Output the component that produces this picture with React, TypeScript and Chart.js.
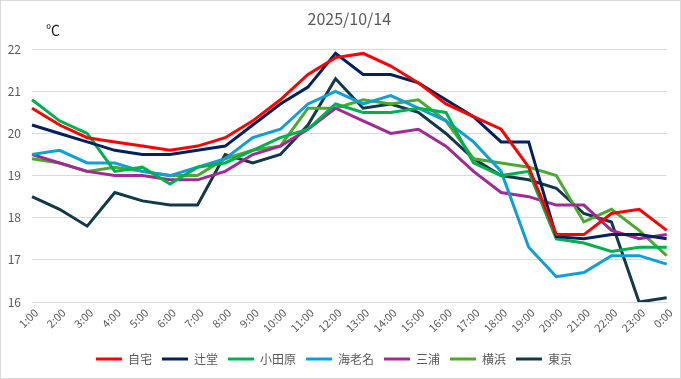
import React, { useEffect, useRef } from "react";
import { Chart, registerables } from "chart.js";

Chart.register(...registerables);

const hours = ["1:00","2:00","3:00","4:00","5:00","6:00","7:00","8:00","9:00","10:00","11:00","12:00","13:00","14:00","15:00","16:00","17:00","18:00","19:00","20:00","21:00","22:00","23:00","0:00"];

const jitaku = [20.6,20.2,19.9,19.8,19.7,19.6,19.7,19.9,20.3,20.8,21.4,21.8,21.9,21.6,21.2,20.7,20.4,20.1,19.2,17.6,17.6,18.1,18.2,17.7];
const tsujido = [20.2,20.0,19.8,19.6,19.5,19.5,19.6,19.7,20.2,20.7,21.1,21.9,21.4,21.4,21.2,20.8,20.4,19.8,19.8,17.55,17.5,17.6,17.6,17.5];
const odawara = [20.8,20.3,20.0,19.1,19.2,18.8,19.2,19.3,19.6,19.9,20.1,20.7,20.5,20.5,20.6,20.5,19.3,19.0,19.1,17.5,17.4,17.2,17.3,17.3];
const ebina = [19.5,19.6,19.3,19.3,19.1,19.0,19.2,19.4,19.9,20.1,20.7,21.0,20.7,20.9,20.6,20.3,19.8,19.1,17.3,16.6,16.7,17.1,17.1,16.9];
const miura = [19.5,19.3,19.1,19.0,19.0,18.9,18.9,19.1,19.5,19.7,20.1,20.6,20.3,20.0,20.1,19.7,19.1,18.6,18.5,18.3,18.3,17.7,17.5,17.6];
const yokohama = [19.4,19.3,19.1,19.2,19.1,19.0,19.0,19.4,19.6,19.7,20.6,20.6,20.8,20.7,20.8,20.3,19.4,19.3,19.2,19.0,17.9,18.2,17.7,17.1];
const tokyo = [18.5,18.2,17.8,18.6,18.4,18.3,18.3,19.5,19.3,19.5,20.2,21.3,20.6,20.7,20.5,20.0,19.4,19.0,18.9,18.7,18.1,17.9,16.0,16.1];

const seriesNames = ["自宅","辻堂","小田原","海老名","三浦","横浜","東京"];
const seriesColors = ["#FF0000","#002060","#00B050","#0F9ED5","#A02B93","#4EA72E","#12394A"];
const seriesData = [jitaku, tsujido, odawara, ebina, miura, yokohama, tokyo];

const yMin = 16;
const yMax = 22;
const titleText = "2025/10/14";
const unitText = "℃";

const FONT = "'Noto Sans CJK JP', 'Noto Sans', sans-serif";

const unitPlugin = {
  id: "unitLabel",
  afterDraw(chart: any) {
    const ctx = chart.ctx;
    ctx.save();
    ctx.font = `14px ${FONT}`;
    ctx.fillStyle = "#1a1a1a";
    ctx.textAlign = "left";
    ctx.textBaseline = "middle";
    ctx.fillText(unitText, chart.chartArea.left + 14, 29);
    ctx.restore();
  },
};

export default function App() {
  const ref = useRef<HTMLCanvasElement | null>(null);

  useEffect(() => {
    document.body.style.margin = "0";
    const canvas = ref.current;
    if (!canvas) return;
    const chart = new Chart(canvas, {
      type: "line",
      data: {
        labels: hours,
        datasets: seriesData.map((d, i) => ({
          label: seriesNames[i],
          data: d,
          borderColor: seriesColors[i],
          backgroundColor: seriesColors[i],
          borderWidth: 3,
          pointRadius: 0,
          pointHoverRadius: 0,
          tension: 0,
          fill: false,
        })),
      },
      options: {
        animation: false,
        responsive: false,
        maintainAspectRatio: false,
        layout: { padding: { left: 0, right: 13, top: 0, bottom: 3 } },
        plugins: {
          tooltip: { enabled: false },
          title: {
            display: true,
            text: titleText,
            fullSize: false,
            color: "#595959",
            font: { family: FONT, size: 16, weight: "normal" },
            padding: { top: 8, bottom: 21 },
          },
          legend: {
            position: "bottom",
            labels: {
              usePointStyle: true,
              pointStyle: "line",
              pointStyleWidth: 26,
              boxHeight: 12,
              padding: 10,
              color: "#595959",
              font: { family: FONT, size: 12 },
            },
          },
        },
        scales: {
          x: {
            grid: { display: false, drawTicks: false },
            border: { display: false },
            ticks: {
              autoSkip: false,
              minRotation: 45,
              maxRotation: 45,
              padding: 4,
              labelOffset: 4,
              color: "#595959",
              font: { family: FONT, size: 11 },
            },
            afterFit(scale: any) {
              scale.height = 41;
            },
          },
          y: {
            min: yMin,
            max: yMax,
            grid: { color: "#d9d9d9", lineWidth: 1, drawTicks: false },
            border: { display: false },
            ticks: {
              stepSize: 1,
              padding: 11,
              color: "#595959",
              font: { family: FONT, size: 12 },
            },
            afterFit(scale: any) {
              scale.width = 31;
            },
          },
        },
      },
      plugins: [unitPlugin],
    });
    return () => chart.destroy();
  }, []);

  return (
    <div
      style={{
        width: 681,
        height: 379,
        boxSizing: "border-box",
        border: "1px solid #d9d9d9",
        background: "#fff",
      }}
    >
      <canvas ref={ref} width={679} height={377} style={{ display: "block", width: 679, height: 377 }} />
    </div>
  );
}
